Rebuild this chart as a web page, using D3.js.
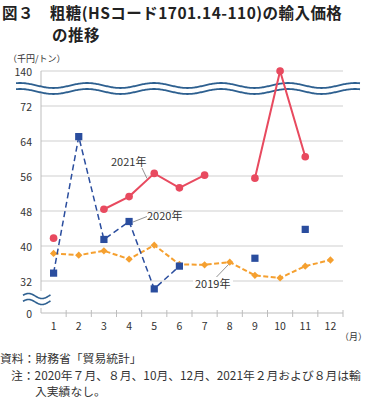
<!DOCTYPE html>
<html>
<head>
<meta charset="utf-8">
<script src="https://cdn.jsdelivr.net/npm/d3@7/dist/d3.min.js"></script>
<style>
  body { margin: 0; background: #fff; }
  svg { display: block; font-family: "Noto Sans CJK JP", "Noto Sans", sans-serif; }
</style>
</head>
<body>
<script>
const months = [1, 2, 3, 4, 5, 6, 7, 8, 9, 10, 11, 12];
const yTicks = [0, 32, 40, 48, 56, 64, 72, 140];
const v2019 = [38.3, 37.9, 38.9, 37.0, 40.2, 35.8, 35.7, 36.3, 33.3, 32.7, 35.4, 36.8];
const v2020 = [33.8, 65.0, 41.5, 45.6, 30.2, 35.4, null, null, 37.2, null, 43.8, null];
const v2021 = [41.8, null, 48.4, 51.3, 56.6, 53.3, 56.2, null, 55.5, 140, 60.4, null];

const width = 370;
const height = 398;

const red = '#e84a5f';
const blue = '#2a4d9e';
const orange = '#f5a030';
const waveColor = '#2e6090';
const textColor = '#333';

let svg = d3.create('svg')
  .attr('width', width)
  .attr('height', height);

// 縦軸は途中省略あり（0〜28 と 72〜140 を圧縮）
let xScale = d3.scaleBand(months, [41, 343]);
let yScale = d3.scaleLinear([0, 28, 72, 140], [313, 298.5, 106, 71]);

// title
svg.append('text')
  .text('図３　粗糖(HSコード1701.14-110)の輸入価格')
  .attr('x', 2).attr('y', 18.5)
  .attr('font-size', 15.5).attr('font-weight', 'bold')
  .attr('letter-spacing', 0.45)
  .attr('fill', '#222');
svg.append('text')
  .text('の推移')
  .attr('x', 52).attr('y', 41)
  .attr('font-size', 15.5).attr('font-weight', 'bold')
  .attr('letter-spacing', 0.45)
  .attr('fill', '#222');

svg.append('text')
  .text('（千円/トン）')
  .attr('x', 8).attr('y', 62)
  .attr('font-size', 9)
  .attr('fill', textColor);

// gridlines
svg.append('g')
  .selectAll('line')
  .data(yTicks.filter(d => d > 0))
  .join('line')
  .attr('x1', 41).attr('x2', 343)
  .attr('y1', d => yScale(d)).attr('y2', d => yScale(d))
  .attr('stroke', '#cfcfcf').attr('stroke-width', 1);

// y axis line
svg.append('line')
  .attr('x1', 41).attr('x2', 41)
  .attr('y1', yScale(140)).attr('y2', yScale(0))
  .attr('stroke', '#bdbdbd');

// x axis line + ticks at month boundaries
svg.append('line')
  .attr('x1', 41).attr('x2', 343)
  .attr('y1', yScale(0)).attr('y2', yScale(0))
  .attr('stroke', '#bdbdbd');
svg.append('g')
  .selectAll('line')
  .data(months)
  .join('line')
  .attr('x1', d => xScale(d) + xScale.bandwidth())
  .attr('x2', d => xScale(d) + xScale.bandwidth())
  .attr('y1', yScale(0) - 3).attr('y2', yScale(0) + 4)
  .attr('stroke', '#bdbdbd');

// axis labels
let yAxis = d3.axisLeft(yScale)
  .tickValues(yTicks)
  .tickSize(0)
  .tickPadding(9);
svg.append('g')
  .attr('transform', 'translate(41,1.5)')
  .call(yAxis)
  .call(g => g.select('.domain').remove())
  .selectAll('text')
  .attr('font-size', 10.5)
  .attr('font-family', '"Noto Sans CJK JP", sans-serif')
  .attr('fill', textColor);

let xAxis = d3.axisBottom(xScale)
  .tickSize(0)
  .tickPadding(10);
svg.append('g')
  .attr('transform', `translate(0,${yScale(0)})`)
  .call(xAxis)
  .call(g => g.select('.domain').remove())
  .selectAll('text')
  .attr('font-size', 10.5)
  .attr('font-family', '"Noto Sans CJK JP", sans-serif')
  .attr('fill', textColor);

svg.append('text')
  .text('（月）')
  .attr('x', 340).attr('y', 340)
  .attr('font-size', 9)
  .attr('fill', textColor);

// top break wave
let waveXs = d3.range(16, 361, 1);
let waveY = (c, d) => c - 2.5 * Math.cos(2 * Math.PI * (d - 87) / 67);
svg.append('path')
  .attr('d', d3.area()
    .x(d => d)
    .y0(d => waveY(85.5, d))
    .y1(d => waveY(91.5, d))(waveXs))
  .attr('fill', '#fff');
[85.5, 91.5].forEach(c => {
  svg.append('path')
    .attr('d', d3.line().x(d => d).y(d => waveY(c, d))(waveXs))
    .attr('fill', 'none').attr('stroke', waveColor).attr('stroke-width', 1.8);
});

// bottom-left break mark
svg.append('rect')
  .attr('x', 36).attr('y', 291).attr('width', 10).attr('height', 17)
  .attr('fill', '#fff');
let markXs = d3.range(23, 51, 0.5);
[296, 302].forEach(c => {
  svg.append('path')
    .attr('d', d3.line()
      .x(d => d)
      .y(d => c - 2.5 * Math.sin(2 * Math.PI * (d - 23) / 27 + 0.3))(markXs))
    .attr('fill', 'none')
    .attr('stroke', waveColor)
    .attr('stroke-width', 1.6);
});

// series
function drawSeries(values, color, dash, width, marker) {
  let data = months.map((m, i) => ({ month: m, value: values[i] }));
  let line = d3.line()
    .defined(d => d.value != null)
    .x(d => xScale(d.month) + xScale.bandwidth() / 2)
    .y(d => yScale(d.value));
  svg.append('path')
    .datum(data)
    .attr('d', line)
    .attr('fill', 'none')
    .attr('stroke', color)
    .attr('stroke-width', width)
    .attr('stroke-dasharray', dash);
  svg.append('g')
    .selectAll('path')
    .data(data.filter(d => d.value != null))
    .join('path')
    .attr('transform', d => `translate(${xScale(d.month) + xScale.bandwidth() / 2},${yScale(d.value)})`)
    .attr('d', d3.symbol(marker.type, marker.size))
    .attr('fill', color);
}

drawSeries(v2019, orange, '5,2.5', 2, { type: d3.symbolDiamond2, size: 34 });
drawSeries(v2020, blue, '6,3.5', 1.5, { type: d3.symbolSquare, size: 52 });
drawSeries(v2021, red, null, 2, { type: d3.symbolCircle, size: 46 });

// series labels with leader lines
svg.append('line')
  .attr('x1', 142).attr('y1', 168).attr('x2', 147).attr('y2', 178.5)
  .attr('stroke', '#777').attr('stroke-width', 0.8);
svg.append('text')
  .text('2021年')
  .attr('x', 111).attr('y', 166)
  .attr('font-size', 11)
  .attr('fill', textColor);

svg.append('line')
  .attr('x1', 147).attr('y1', 216.5).attr('x2', 133).attr('y2', 222)
  .attr('stroke', '#777').attr('stroke-width', 0.8);
svg.append('text')
  .text('2020年')
  .attr('x', 147).attr('y', 220)
  .attr('font-size', 11)
  .attr('fill', textColor);

svg.append('line')
  .attr('x1', 216.5).attr('y1', 277).attr('x2', 228.5).attr('y2', 264.5)
  .attr('stroke', '#777').attr('stroke-width', 0.8);
svg.append('rect')
  .attr('x', 193).attr('y', 277).attr('width', 40).attr('height', 12)
  .attr('fill', '#fff');
svg.append('text')
  .text('2019年')
  .attr('x', 195).attr('y', 287.5)
  .attr('font-size', 11)
  .attr('fill', textColor);

// notes
let notes = svg.append('g')
  .attr('font-size', 11.8)
  .attr('fill', textColor);
notes.append('text').text('資料：財務省「貿易統計」').attr('x', 0).attr('y', 362.5);
notes.append('text')
  .text('注：2020年７月、８月、10月、12月、2021年２月および８月は輸')
  .attr('x', 11).attr('y', 379.5);
notes.append('text')
  .text('入実績なし。')
  .attr('x', 35).attr('y', 396);

document.body.appendChild(svg.node());
</script>
</body>
</html>
